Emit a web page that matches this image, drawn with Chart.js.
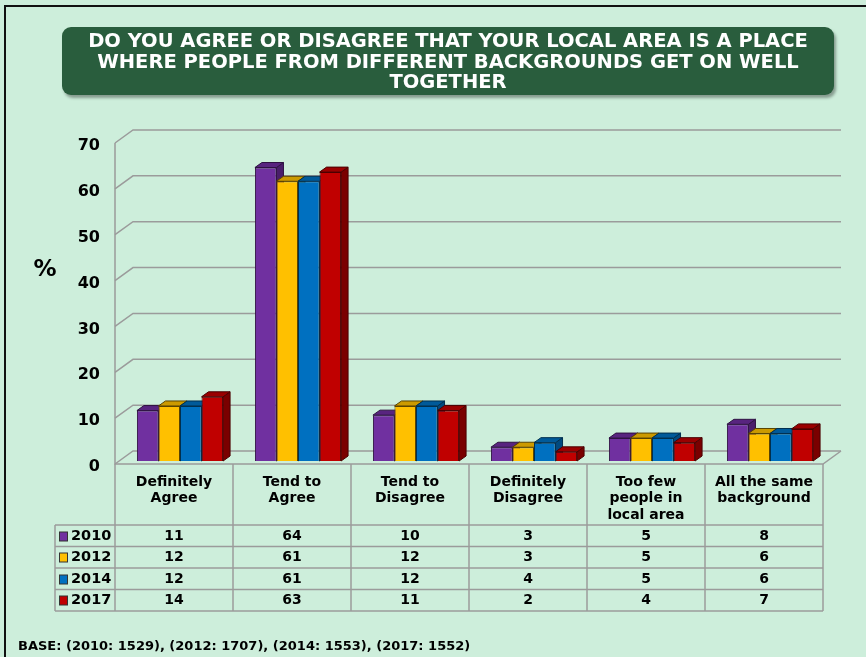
<!DOCTYPE html>
<html>
<head>
<meta charset="utf-8">
<script src="https://cdn.jsdelivr.net/npm/chart.js@4"></script>
<style>
  html, body { margin: 0; padding: 0; background: #CDEEDB; }
  body { width: 866px; height: 657px; position: relative; overflow: hidden; font-family: "DejaVu Sans", Verdana, sans-serif; }
  #frame { position: absolute; left: 4px; top: 5px; width: 900px; height: 700px; border: 2px solid #111; }
  #title {
    position: absolute; left: 62px; top: 27px; width: 772px; height: 68px;
    background: #295D3D; border-radius: 9px; box-shadow: 2px 3px 3px rgba(0,0,0,0.35);
    color: #fff; text-align: center; font: bold 19.5px "DejaVu Sans", Verdana, sans-serif;
    line-height: 20.5px; padding-top: 4px; box-sizing: border-box; white-space: nowrap;
  }
  #base { position: absolute; left: 18px; top: 638px; font: bold 13px "DejaVu Sans", sans-serif; color: #000; }
  canvas { position: absolute; left: 0; top: 0; }
</style>
</head>
<body>
<div id="frame"></div>
<canvas id="chart" width="866" height="657"></canvas>
<div id="title">DO YOU AGREE OR DISAGREE THAT YOUR LOCAL AREA IS A PLACE<br>WHERE PEOPLE FROM DIFFERENT BACKGROUNDS GET ON WELL<br>TOGETHER</div>
<div id="base">BASE: (2010: 1529), (2012: 1707), (2014: 1553), (2017: 1552)</div>
<script>
const categories = [
  ['Definitely', 'Agree'],
  ['Tend to', 'Agree'],
  ['Tend to', 'Disagree'],
  ['Definitely', 'Disagree'],
  ['Too few', 'people in', 'local area'],
  ['All the same', 'background'],
];
const years = ['2010', '2012', '2014', '2017'];
const values2010 = [11, 64, 10, 3, 5, 8];
const values2012 = [12, 61, 12, 3, 5, 6];
const values2014 = [12, 61, 12, 4, 5, 6];
const values2017 = [14, 63, 11, 2, 4, 7];
const yMin = 0, yMax = 70, yStep = 10;

const faceColors = ['#7030A0', '#FFC000', '#0070C0', '#C00000'];
const topColors = ['#58247F', '#CC9A00', '#005A9A', '#9A0000'];
const sideColors = ['#4A1E6B', '#A87F00', '#004A80', '#7A0000'];
const edgeColors = ['#2E1242', '#5A4400', '#00304F', '#4A0000'];

// front plane sits a little left/below the bar plane; back wall further in
const FRONT = { dx: -6, dy: 3 };
const DEPTH = { dx: 18, dy: -13 };
const BAR_DEPTH = { dx: 7, dy: -5 };

const FONT = '"DejaVu Sans", Verdana, sans-serif';

const wallPlugin = {
  id: 'wall3d',
  beforeDatasetsDraw(chart) {
    const { ctx, chartArea: area, scales: { y } } = chart;
    const fl = area.left + FRONT.dx, fr = area.right + FRONT.dx;
    ctx.save();
    ctx.strokeStyle = '#9B9B9B';
    ctx.lineWidth = 1.5;
    // back wall grid + left wall diagonals
    for (let v = yMin; v <= yMax; v += yStep) {
      const fy = y.getPixelForValue(v) + FRONT.dy;
      ctx.beginPath();
      ctx.moveTo(fl, fy);
      ctx.lineTo(fl + DEPTH.dx, fy + DEPTH.dy);
      ctx.lineTo(fr + DEPTH.dx, fy + DEPTH.dy);
      ctx.stroke();
    }
    const f0 = y.getPixelForValue(yMin) + FRONT.dy;
    const fTop = y.getPixelForValue(yMax) + FRONT.dy;
    ctx.beginPath();
    ctx.moveTo(fl, fTop);
    ctx.lineTo(fl, f0);
    ctx.lineTo(fr, f0);
    ctx.lineTo(fr + DEPTH.dx, f0 + DEPTH.dy);
    ctx.stroke();

    // 3D top and side faces of bars (front faces drawn by Chart.js on top)
    chart.data.datasets.forEach((ds, di) => {
      const meta = chart.getDatasetMeta(di);
      meta.data.forEach(bar => {
        const { x: bx, y: by, base, width } = bar.getProps(['x', 'y', 'base', 'width'], true);
        const l = bx - width / 2, r = bx + width / 2;
        ctx.lineWidth = 1;
        ctx.strokeStyle = edgeColors[di];
        ctx.fillStyle = sideColors[di];
        ctx.beginPath();
        ctx.moveTo(r, by);
        ctx.lineTo(r + BAR_DEPTH.dx, by + BAR_DEPTH.dy);
        ctx.lineTo(r + BAR_DEPTH.dx, base + BAR_DEPTH.dy);
        ctx.lineTo(r, base);
        ctx.closePath();
        ctx.fill();
        ctx.stroke();
        ctx.fillStyle = topColors[di];
        ctx.beginPath();
        ctx.moveTo(l, by);
        ctx.lineTo(l + BAR_DEPTH.dx, by + BAR_DEPTH.dy);
        ctx.lineTo(r + BAR_DEPTH.dx, by + BAR_DEPTH.dy);
        ctx.lineTo(r, by);
        ctx.closePath();
        ctx.fill();
        ctx.stroke();
      });
    });
    ctx.restore();
  },
  afterDraw(chart) {
    const { ctx, chartArea: area, scales: { y } } = chart;
    const fl = area.left + FRONT.dx;
    const colW = (area.right - area.left) / categories.length;
    const top = y.getPixelForValue(yMin) + FRONT.dy;
    const headH = 61, rowH = 21.5;
    const rowsTop = top + headH;
    const bottom = rowsTop + rowH * years.length;
    const legL = 55;

    ctx.save();
    ctx.strokeStyle = '#9B9B9B';
    ctx.lineWidth = 1.5;
    for (let i = 0; i <= categories.length; i++) {
      const xx = fl + i * colW;
      ctx.beginPath();
      ctx.moveTo(xx, top);
      ctx.lineTo(xx, bottom);
      ctx.stroke();
    }
    ctx.beginPath();
    ctx.moveTo(legL, rowsTop);
    ctx.lineTo(legL, bottom);
    ctx.stroke();
    for (let r = 0; r <= years.length; r++) {
      const yy = rowsTop + r * rowH;
      ctx.beginPath();
      ctx.moveTo(legL, yy);
      ctx.lineTo(fl + categories.length * colW, yy);
      ctx.stroke();
    }

    // header labels
    ctx.fillStyle = '#000';
    ctx.textAlign = 'center';
    ctx.textBaseline = 'middle';
    ctx.font = 'bold 14px ' + FONT;
    categories.forEach((lines, i) => {
      const cx = fl + (i + 0.5) * colW;
      lines.forEach((t, k) => ctx.fillText(t, cx, top + 18 + k * 16.5));
    });

    // data rows
    chart.data.datasets.forEach((ds, r) => {
      const cy = Math.round(rowsTop + (r + 0.5) * rowH) + 0.5;
      ctx.fillStyle = '#000';
      ctx.textAlign = 'center';
      ds.data.forEach((v, i) => {
        ctx.fillText(String(v), fl + (i + 0.5) * colW, cy);
      });
      // legend key
      ctx.fillStyle = faceColors[r];
      ctx.fillRect(59.5, cy - 4.5, 8, 9);
      ctx.strokeStyle = '#333';
      ctx.lineWidth = 1;
      ctx.strokeRect(59.5, cy - 4.5, 8, 9);
      ctx.fillStyle = '#000';
      ctx.textAlign = 'left';
      ctx.font = 'bold 14.5px ' + FONT;
      ctx.fillText(ds.label, 71, cy);
      ctx.font = 'bold 14px ' + FONT;
    });

    // axis unit
    ctx.font = 'bold 23px ' + FONT;
    ctx.textAlign = 'center';
    ctx.fillText('%', 45, 270);
    ctx.restore();
  }
};

const datasets = [values2010, values2012, values2014, values2017].map((vals, i) => ({
  label: years[i],
  data: vals,
  backgroundColor: faceColors[i],
  borderColor: edgeColors[i],
  borderWidth: 1,
  categoryPercentage: 0.73,
  barPercentage: 1.0,
}));

new Chart(document.getElementById('chart').getContext('2d'), {
  type: 'bar',
  data: { labels: categories, datasets },
  options: {
    responsive: false,
    animation: false,
    layout: { padding: { left: 0, top: 140, right: 37, bottom: 196 } },
    plugins: { legend: { display: false }, tooltip: { enabled: false } },
    scales: {
      x: { display: false },
      y: {
        min: yMin,
        max: yMax,
        afterFit(scale) { scale.width = 121; },
        border: { display: false },
        grid: { display: false, drawTicks: false },
        ticks: {
          stepSize: yStep,
          padding: 21,
          labelOffset: 6,
          color: '#000',
          font: { family: FONT, size: 16, weight: 'bold' },
        },
      },
    },
  },
  plugins: [wallPlugin],
});
</script>
</body>
</html>
